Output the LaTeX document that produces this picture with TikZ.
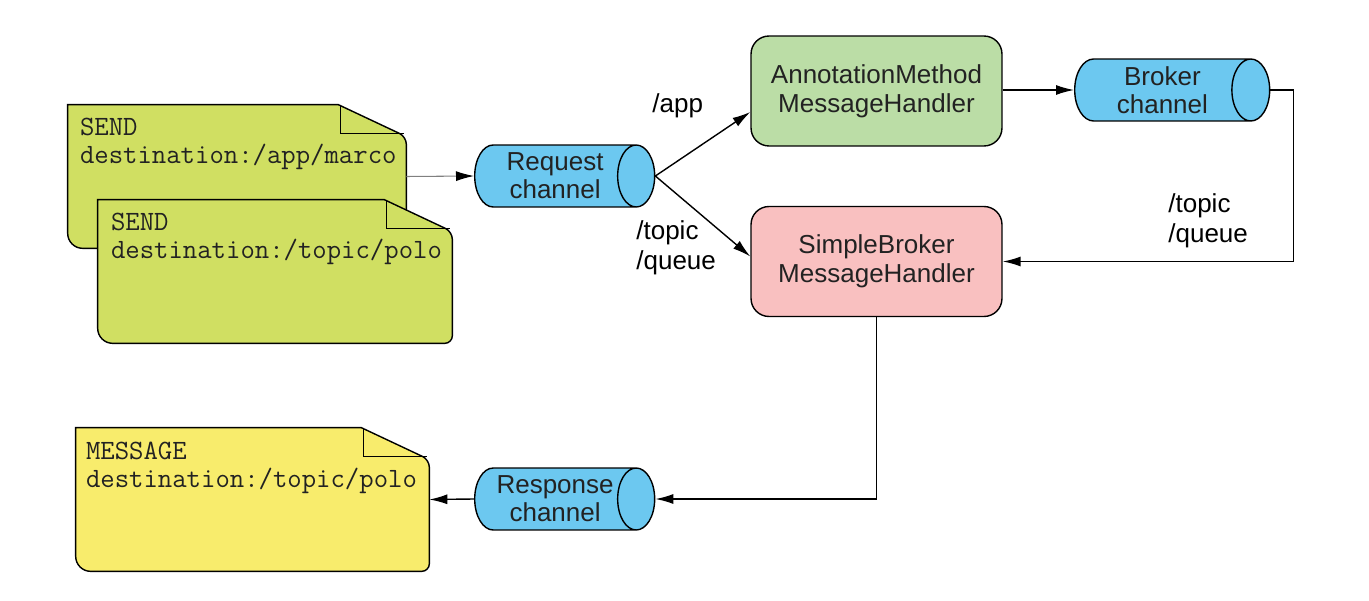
\documentclass[tikz,border=0pt]{standalone}
\usepackage{fontspec}
\setmainfont{Liberation Sans}
\usetikzlibrary{
    arrows.meta,
    positioning,
    calc,
    shapes.geometric
}
\definecolor{NoteGreen}{RGB}{208,223,98}
\definecolor{NoteYellow}{RGB}{248,236,108}
\definecolor{ChanBlue}{RGB}{108,200,240}
\definecolor{SoftGreen}{RGB}{187,221,166}
\definecolor{SoftPink}{RGB}{249,192,192}
\definecolor{InkGray}{RGB}{34,34,34}
\tikzset{
  chan/.style    = {draw, cylinder, shape border rotate=0, aspect=0.8,
                    fill=ChanBlue, minimum height=3.6cm, minimum width=1.24cm,
                    inner sep=0pt, align=center, text=InkGray, anchor=west,
                    font=\fontsize{14.8}{16}\selectfont, line width=0.8pt},
  handler/.style = {draw, rounded corners=0.36cm, minimum width=5.02cm,
                    minimum height=2.2cm, align=center, text=InkGray,
                    font=\fontsize{14.8}{16.5}\selectfont, line width=0.8pt},
  note/.style    = {minimum height=2.86cm, inner sep=0pt},
  msg/.style     = {anchor=north west, inner sep=0pt, align=left, text=InkGray,
                    font=\ttfamily\fontsize{15.9}{15.8}\selectfont},
  lbl/.style     = {anchor=west, inner sep=0pt, align=left, text=black,
                    font=\fontsize{14.8}{17}\selectfont}
}
\newcommand{\drawnote}[2]{%
  \draw[line width=0.8pt, fill=#2]
    (#1.west) -- (#1.north west) -- ($(#1.north east)+(-68,0)$)
    [rounded corners=0.15cm] -- ($(#1.north east)+(0,32)$) -- (#1.south east)
    [rounded corners=0.3cm] -- (#1.south west) -- cycle;
  \draw[line width=0.8pt] ($(#1.north east)+(-66,0)$) |- ($(#1.north east)+(-2,29)$);
}

\begin{document}
\begin{tikzpicture}[
    x=0.02cm, y=-0.02cm,
    arr/.style={-{Latex[length=3.6mm,width=2mm]}, line width=0.8pt},
    arrg/.style={-{Latex[length=3.6mm,width=2mm,color=black]}, gray, line width=0.6pt}
]
\useasboundingbox (0,0) rectangle (1369,601);

\node[note, minimum width=6.76cm] (doc1) at (237,176.5) {};
\drawnote{doc1}{NoteGreen}
\node[msg] (t1) at ($(doc1.north west)+(12,13)$) {SEND\\destination:/app/marco};

\node[note, minimum width=7.08cm] (doc2) at (275,271.5) {};
\drawnote{doc2}{NoteGreen}
\node[msg] (t2) at ($(doc2.north west)+(13,13)$) {SEND\\destination:/topic/polo};

\node[note, minimum width=7.06cm] (doc3) at (252.5,499.5) {};
\drawnote{doc3}{NoteYellow}
\node[msg] (t3) at ($(doc3.north west)+(10,14)$) {MESSAGE\\destination:/topic/polo};

\node[chan] (req) at (474,176) {Request\\channel};
\node[chan] (resp) at (474,499) {Response\\channel};
\node[chan, minimum height=3.9cm] (broker) at (1074,90) {Broker\\channel};

\node[handler, fill=SoftGreen] (ann) at (876.5,91) {AnnotationMethod\\MessageHandler};
\node[handler, fill=SoftPink] (simple) at (876.5,261.5) {SimpleBroker\\MessageHandler};

\node[lbl] (lapp) at (652,106) {/app};
\node[lbl] (ltq1) at (636,248) {/topic\\/queue};
\node[lbl] (ltq2) at (1168,221) {/topic\\/queue};

\draw[arrg] (doc1.east) -- (req.west);
\draw[arr] (req.east) -- ($(ann.west)+(0,21)$);
\draw[arr] (req.east) -- ($(simple.west)+(0,-5)$);
\draw[arr] (ann.east |- broker.west) -- (broker.west);
\draw[arr] (broker.east) -- ++(23,0) |- (simple.east);
\draw[arr] (simple.south) |- (resp.east);
\draw[arr] (resp.west) -- (doc3.east);
\end{tikzpicture}
\end{document}
